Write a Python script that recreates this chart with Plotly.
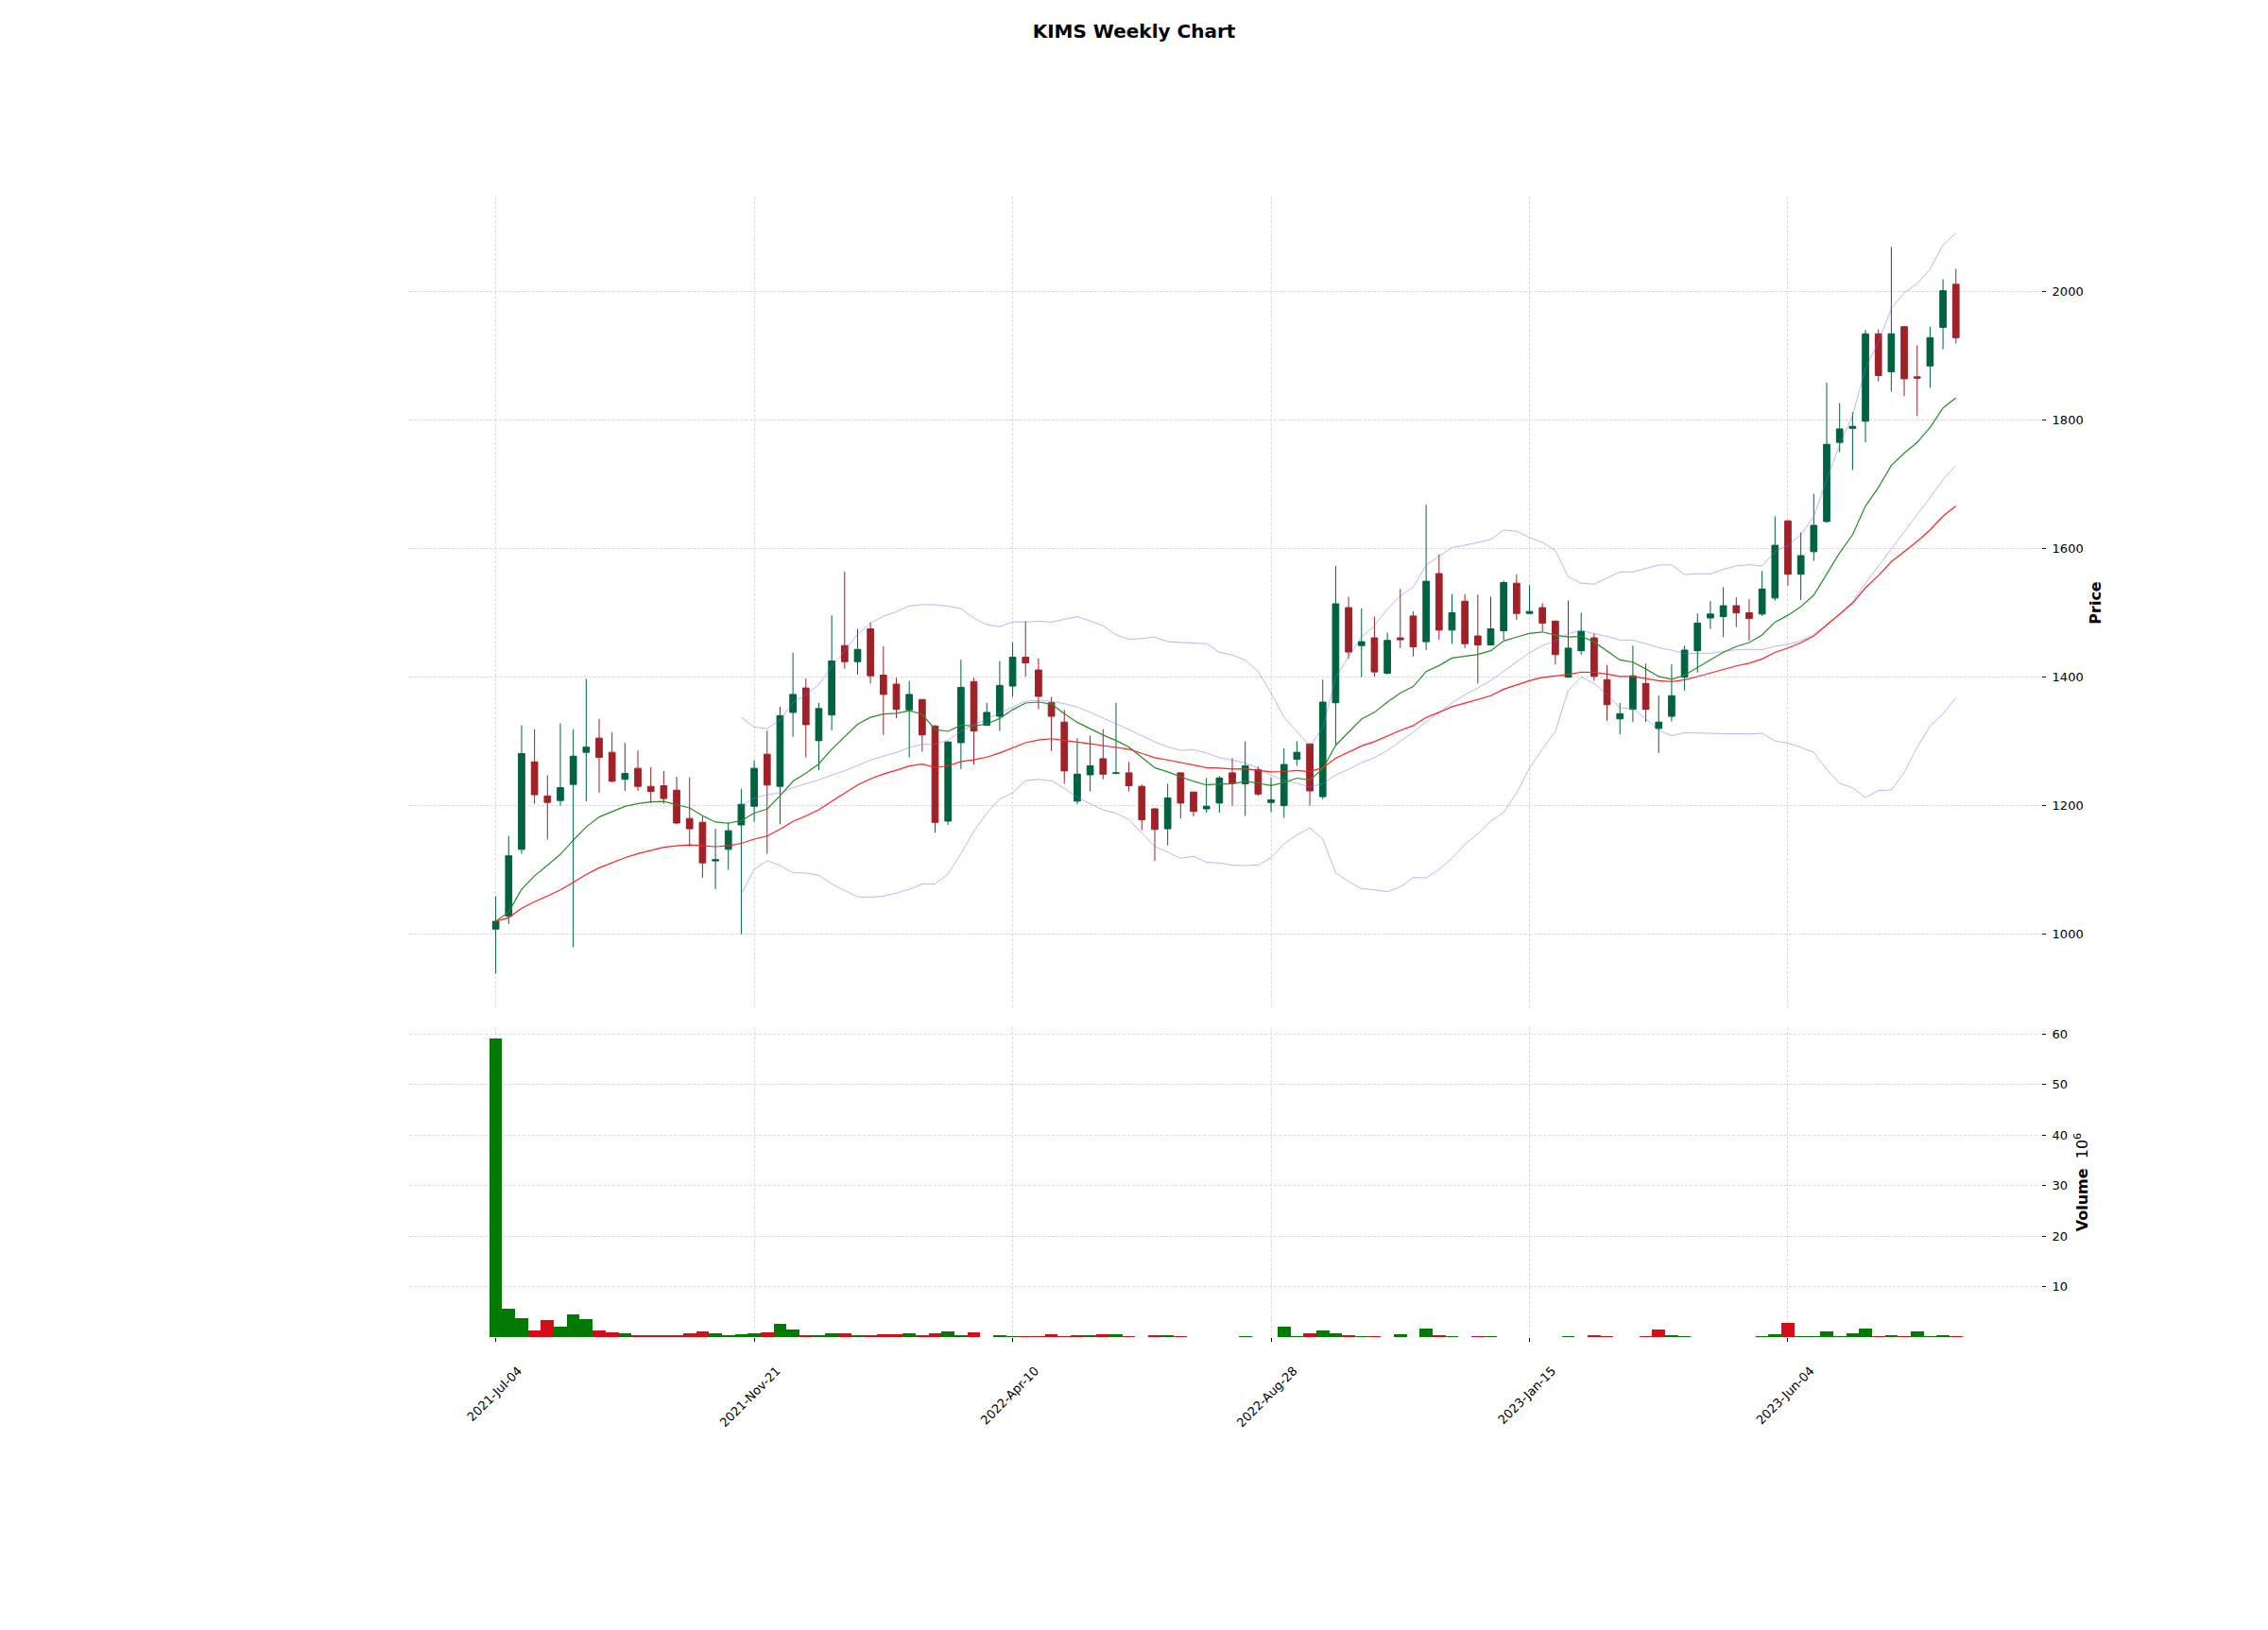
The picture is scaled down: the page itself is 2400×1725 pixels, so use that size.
import pandas as pd
import plotly.graph_objects as go

# ---------------- data ----------------
opens = [1008, 1028, 1132, 1268, 1215, 1208, 1233, 1283, 1305, 1283,
         1241, 1258, 1230, 1231, 1224, 1180, 1174, 1114, 1132, 1170,
         1199, 1280, 1230, 1345, 1383, 1301, 1341, 1449, 1424, 1475,
         1403, 1389, 1349, 1365, 1324, 1176, 1298, 1393, 1325, 1339,
         1386, 1431, 1411, 1360, 1330, 1207, 1248, 1273, 1250, 1251,
         1230, 1195, 1164, 1251, 1221, 1195, 1204, 1251, 1234, 1256,
         1205, 1200, 1272, 1296, 1214, 1360, 1508, 1449, 1461, 1406,
         1461, 1495, 1455, 1561, 1473, 1518, 1464, 1450, 1472, 1546,
         1499, 1508, 1487, 1400, 1441, 1461, 1396, 1335, 1350, 1390,
         1320, 1339, 1400, 1441, 1492, 1494, 1511, 1500, 1498, 1523,
         1643, 1560, 1595, 1642, 1765, 1787, 1798, 1934, 1875, 1945,
         1867, 1884, 1944, 2011]
highs = [1059, 1153, 1325, 1319, 1247, 1328, 1319, 1397, 1335, 1314,
         1298, 1286, 1260, 1254, 1245, 1244, 1184, 1164, 1174, 1226,
         1270, 1317, 1354, 1438, 1398, 1360, 1496, 1564, 1475, 1485,
         1448, 1399, 1394, 1366, 1325, 1300, 1427, 1399, 1360, 1425,
         1454, 1487, 1429, 1369, 1349, 1305, 1309, 1319, 1360, 1268,
         1233, 1196, 1234, 1252, 1222, 1243, 1246, 1274, 1300, 1261,
         1244, 1289, 1300, 1297, 1396, 1573, 1525, 1507, 1494, 1469,
         1537, 1502, 1668, 1591, 1529, 1529, 1528, 1525, 1550, 1560,
         1543, 1515, 1488, 1519, 1500, 1468, 1419, 1360, 1449, 1421,
         1371, 1420, 1449, 1499, 1518, 1540, 1524, 1521, 1565, 1650,
         1644, 1625, 1685, 1858, 1826, 1812, 1940, 1941, 2069, 1946,
         1916, 1945, 2019, 2035]
lows = [939, 1016, 1125, 1203, 1147, 1200, 980, 1207, 1220, 1236,
        1223, 1223, 1204, 1203, 1171, 1136, 1088, 1070, 1100, 1000,
        1175, 1125, 1171, 1307, 1275, 1255, 1317, 1413, 1404, 1390,
        1310, 1336, 1275, 1284, 1158, 1170, 1257, 1264, 1324, 1316,
        1369, 1401, 1350, 1285, 1234, 1202, 1222, 1241, 1249, 1222,
        1162, 1114, 1138, 1180, 1183, 1189, 1189, 1200, 1184, 1215,
        1190, 1181, 1262, 1200, 1210, 1295, 1429, 1400, 1401, 1404,
        1445, 1432, 1442, 1458, 1452, 1445, 1390, 1449, 1458, 1489,
        1498, 1471, 1420, 1399, 1435, 1394, 1332, 1311, 1330, 1330,
        1282, 1331, 1379, 1407, 1475, 1462, 1478, 1457, 1495, 1519,
        1542, 1520, 1581, 1640, 1750, 1722, 1765, 1860, 1844, 1837,
        1806, 1850, 1910, 1919]
closes = [1020, 1122, 1281, 1217, 1205, 1228, 1277, 1291, 1275, 1238,
          1250, 1230, 1222, 1211, 1173, 1164, 1111, 1116, 1161, 1202,
          1258, 1232, 1340, 1373, 1326, 1351, 1425, 1424, 1443, 1402,
          1373, 1350, 1373, 1310, 1174, 1299, 1384, 1316, 1345, 1387,
          1431, 1422, 1370, 1339, 1254, 1249, 1262, 1249, 1251, 1231,
          1178, 1163, 1212, 1204, 1191, 1199, 1243, 1235, 1262, 1218,
          1209, 1264, 1283, 1223, 1361, 1514, 1439, 1455, 1408, 1457,
          1458, 1447, 1549, 1473, 1500, 1452, 1450, 1475, 1547, 1499,
          1502, 1484, 1435, 1445, 1471, 1401, 1357, 1343, 1402, 1350,
          1330, 1371, 1442, 1484, 1498, 1511, 1500, 1491, 1537, 1605,
          1560, 1589, 1636, 1762, 1786, 1790, 1934, 1869, 1934, 1864,
          1865, 1928, 2001, 1928]
volume_millions = [59.0, 5.6, 3.7, 1.26, 3.33, 2.0, 4.47, 3.52, 1.26, 0.88,
                   0.69, 0.31, 0.31, 0.31, 0.31, 0.69, 1.07, 0.69, 0.19, 0.5,
                   0.69, 0.88, 2.58, 1.45, 0.31, 0.31, 0.69, 0.69, 0.31, 0.19,
                   0.5, 0.5, 0.69, 0.31, 0.69, 1.07, 0.31, 0.88, 0.0, 0.31,
                   0.1, 0.1, 0.1, 0.5, 0.1, 0.31, 0.31, 0.5, 0.5, 0.1,
                   0.0, 0.31, 0.31, 0.1, 0.0, 0.0, 0.0, 0.0, 0.13, 0.0,
                   0.0, 2.0, 0.1, 0.69, 1.26, 0.69, 0.31, 0.1, 0.1, 0.0,
                   0.5, 0.0, 1.64, 0.31, 0.1, 0.0, 0.1, 0.1, 0.0, 0.0,
                   0.0, 0.0, 0.0, 0.1, 0.0, 0.31, 0.1, 0.0, 0.0, 0.1,
                   1.45, 0.31, 0.1, 0.0, 0.0, 0.0, 0.0, 0.0, 0.1, 0.5,
                   2.77, 0.1, 0.1, 1.07, 0.1, 0.69, 1.64, 0.1, 0.31, 0.1,
                   1.07, 0.1, 0.31, 0.1]
tick_labels = ["2021-Jul-04", "2021-Nov-21", "2022-Apr-10",
               "2022-Aug-28", "2023-Jan-15", "2023-Jun-04"]
price_ticks = [1000, 1200, 1400, 1600, 1800, 2000]
volume_ticks = [10, 20, 30, 40, 50, 60]

# weekly dates of the candles (one per week, starting at the first label)
week_dates = pd.date_range("2021-07-04", periods=len(closes), freq="7D")
date_text = list(week_dates.strftime("%Y-%b-%d"))
x = list(range(len(closes)))
tick_pos = [date_text.index(t) for t in tick_labels]

# indicator lines derived from the closes (fast / slow EMA, Bollinger 20)
close_s = pd.Series(closes, dtype=float)
ema_fast = close_s.ewm(span=13, adjust=False).mean()
ema_slow = close_s.ewm(span=34, adjust=False).mean()
bb_mid = close_s.rolling(20).mean()
bb_std = close_s.rolling(20).std()
bb_up = bb_mid + 2 * bb_std
bb_lo = bb_mid - 2 * bb_std

vol_colors = ["#007a00" if (i == 0 or closes[i] >= closes[i - 1]) else "#d50d18"
              for i in range(len(closes))]

# ---------------- figure ----------------
UP, DOWN = "#006340", "#A02128"
BAND = "rgba(110,110,255,0.5)"
GRID = "#d9d9d9"
FONT = "DejaVu Sans"

# the page body adds an 8 px offset; the figure is sized to fit the window
W, H = 2392, 1717
L, T = 425, 200
PW, PH = 1727, 1207

fig = go.Figure()
fig.add_trace(go.Candlestick(
    x=x, open=opens, high=highs, low=lows, close=closes,
    increasing=dict(line=dict(color=UP, width=1), fillcolor=UP),
    decreasing=dict(line=dict(color=DOWN, width=1), fillcolor=DOWN),
    whiskerwidth=0, showlegend=False, xaxis="x", yaxis="y", name="KIMS"))
for series, col, w in [(bb_up, BAND, 1), (bb_mid, BAND, 1), (bb_lo, BAND, 1),
                       (ema_fast, "rgb(40,140,40)", 1.2),
                       (ema_slow, "rgb(255,35,35)", 1.2)]:
    fig.add_trace(go.Scatter(x=x, y=series, mode="lines",
                             line=dict(color=col, width=w),
                             showlegend=False, xaxis="x", yaxis="y",
                             hoverinfo="skip"))
fig.add_trace(go.Bar(x=x, y=volume_millions, width=1,
                     marker=dict(color=vol_colors, line=dict(width=0)),
                     showlegend=False, xaxis="x2", yaxis="y2"))

xr = [-6.7, len(closes) - 1 + 6.6]
common_x = dict(range=xr, tickvals=tick_pos, showgrid=True, gridcolor=GRID,
                griddash="3px,2px", gridwidth=1, zeroline=False, showline=False)
common_y = dict(side="right", showgrid=True, gridcolor=GRID, griddash="3px,2px",
                gridwidth=1, zeroline=False, showline=False, ticks="outside",
                ticklen=4, tickwidth=1, tickcolor="black", ticklabelstandoff=4,
                tickfont=dict(family=FONT, size=13, color="black"))

fig.update_layout(
    width=W, height=H,
    paper_bgcolor="white", plot_bgcolor="white",
    margin=dict(l=L, r=W - L - PW, t=T, b=H - T - PH),
    font=dict(family=FONT, size=13, color="black"),
    title=dict(text="<b>KIMS Weekly Chart</b>", x=1192 / W, xref="container",
               xanchor="center", y=1 - 25 / H, yref="container",
               yanchor="middle", font=dict(family=FONT, size=20, color="black")),
    bargap=0,
    xaxis=dict(**common_x, anchor="y", matches="x2", showticklabels=False,
               ticks="", rangeslider=dict(visible=False)),
    xaxis2=dict(**common_x, anchor="y2", ticktext=tick_labels, tickangle=-45,
                ticks="outside", ticklen=4, tickwidth=1, tickcolor="black",
                ticklabelshift=24, ticklabelstandoff=18,
                tickfont=dict(family=FONT, size=13, color="black")),
    yaxis=dict(**common_y, domain=[0.2875, 1.0], range=[883.4, 2147.5],
               tickvals=price_ticks,
               title=dict(text="<b>Price</b>", standoff=8,
                          font=dict(family=FONT, size=16, color="black"))),
    yaxis2=dict(**common_y, domain=[0.0, 0.2717], range=[0, 61.3],
                tickvals=volume_ticks,
                title=dict(text="<b>Volume</b>  10<sup>6</sup>", standoff=10,
                           font=dict(family=FONT, size=16, color="black"))),
)

fig.write_html("out.html")
